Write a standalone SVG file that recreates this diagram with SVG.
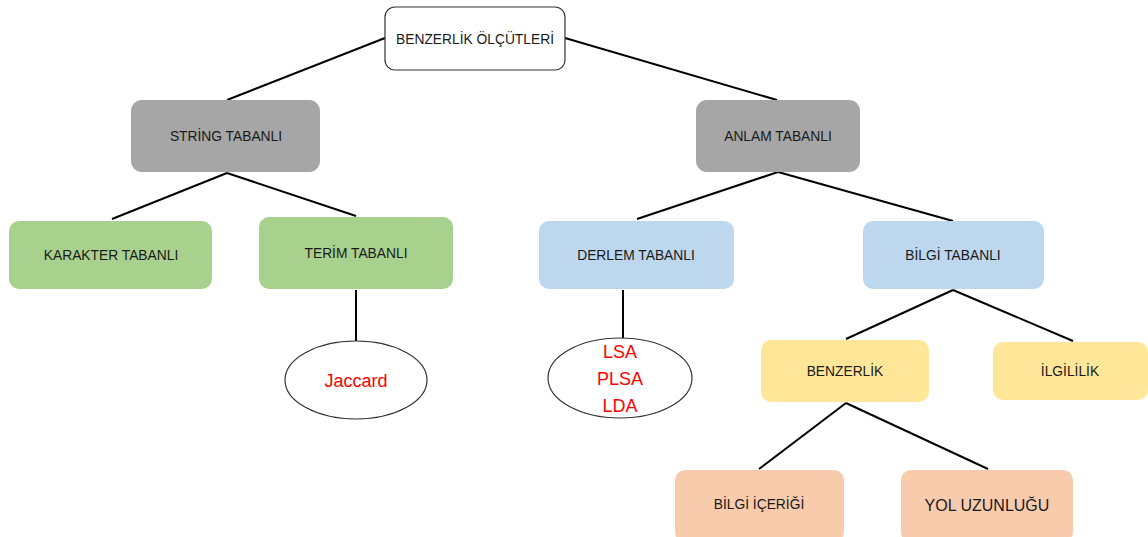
<svg xmlns="http://www.w3.org/2000/svg" width="1148" height="537" viewBox="0 0 1148 537">
  <style>
    .lbl { font-family: "Liberation Sans", "Noto Sans", sans-serif; font-size: 13.8px; fill: #1a1a1a; text-anchor: middle; dominant-baseline: central; }
    .red { font-family: "Liberation Sans", "Noto Sans", sans-serif; font-size: 18px; fill: #ff0000; text-anchor: middle; dominant-baseline: central; }
    .gray { fill: #a6a6a6; }
    .green { fill: #a9d18e; }
    .blue { fill: #bdd7ee; }
    .yellow { fill: #ffe699; }
    .peach { fill: #f8cbad; }
    .edge { stroke: #000; stroke-width: 2; fill: none; }
    .oval { fill: #fff; stroke: #333; stroke-width: 1.2; }
  </style>
  <rect width="1148" height="537" fill="#fff"/>

  <!-- connectors -->
  <g id="connectors" class="edge">
    <line x1="385" y1="38" x2="227" y2="100"/>
    <line x1="565" y1="38" x2="777" y2="100"/>
    <line x1="227" y1="173" x2="112" y2="219"/>
    <line x1="227" y1="173" x2="356" y2="216"/>
    <line x1="778" y1="172" x2="637" y2="219"/>
    <line x1="778" y1="172" x2="953" y2="221"/>
    <line x1="356" y1="290" x2="356" y2="342"/>
    <line x1="623" y1="290" x2="623" y2="339"/>
    <line x1="953" y1="290" x2="846" y2="339"/>
    <line x1="953" y1="290" x2="1073" y2="341"/>
    <line x1="846" y1="403" x2="759" y2="469"/>
    <line x1="846" y1="403" x2="988" y2="469"/>
  </g>

  <g id="root">
    <rect x="385" y="7" width="180" height="63" rx="10" fill="#fff" stroke="#333" stroke-width="1.2"/>
    <text class="lbl" x="475" y="39">BENZERLİK ÖLÇÜTLERİ</text>
  </g>

  <g id="string-tabanli">
    <rect class="gray" x="131" y="100" width="189" height="72" rx="11"/>
    <text class="lbl" x="226" y="136">STRİNG TABANLI</text>
  </g>
  <g id="anlam-tabanli">
    <rect class="gray" x="696" y="100" width="164" height="72" rx="11"/>
    <text class="lbl" x="778" y="136">ANLAM TABANLI</text>
  </g>

  <g id="karakter-tabanli">
    <rect class="green" x="9" y="221" width="203" height="68" rx="10"/>
    <text class="lbl" x="111" y="255">KARAKTER TABANLI</text>
  </g>
  <g id="terim-tabanli">
    <rect class="green" x="259" y="217" width="194" height="72" rx="10"/>
    <text class="lbl" x="356" y="253">TERİM TABANLI</text>
  </g>
  <g id="derlem-tabanli">
    <rect class="blue" x="539" y="221" width="195" height="68" rx="10"/>
    <text class="lbl" x="636" y="255">DERLEM TABANLI</text>
  </g>
  <g id="bilgi-tabanli">
    <rect class="blue" x="863" y="221" width="181" height="68" rx="10"/>
    <text class="lbl" x="953" y="255">BİLGİ TABANLI</text>
  </g>

  <g id="jaccard">
    <ellipse class="oval" cx="356" cy="380" rx="71" ry="39"/>
    <text class="red" x="356" y="381">Jaccard</text>
  </g>
  <g id="lsa-plsa-lda">
    <ellipse class="oval" cx="620" cy="378" rx="72" ry="40"/>
    <text class="red" x="620" y="352">LSA</text>
    <text class="red" x="620" y="379">PLSA</text>
    <text class="red" x="620" y="406">LDA</text>
  </g>

  <g id="benzerlik">
    <rect class="yellow" x="761" y="340" width="168" height="62" rx="10"/>
    <text class="lbl" x="845" y="371">BENZERLİK</text>
  </g>
  <g id="ilgililik">
    <rect class="yellow" x="993" y="342" width="155" height="58" rx="10"/>
    <text class="lbl" x="1070" y="371">İLGİLİLİK</text>
  </g>

  <g id="bilgi-icerigi">
    <rect class="peach" x="675" y="470" width="169" height="72" rx="10"/>
    <text class="lbl" x="759" y="504">BİLGİ İÇERİĞİ</text>
  </g>
  <g id="yol-uzunlugu">
    <rect class="peach" x="901" y="470" width="172" height="72" rx="10"/>
    <text class="lbl" x="987" y="505" style="font-size:16px">YOL UZUNLUĞU</text>
  </g>
</svg>
